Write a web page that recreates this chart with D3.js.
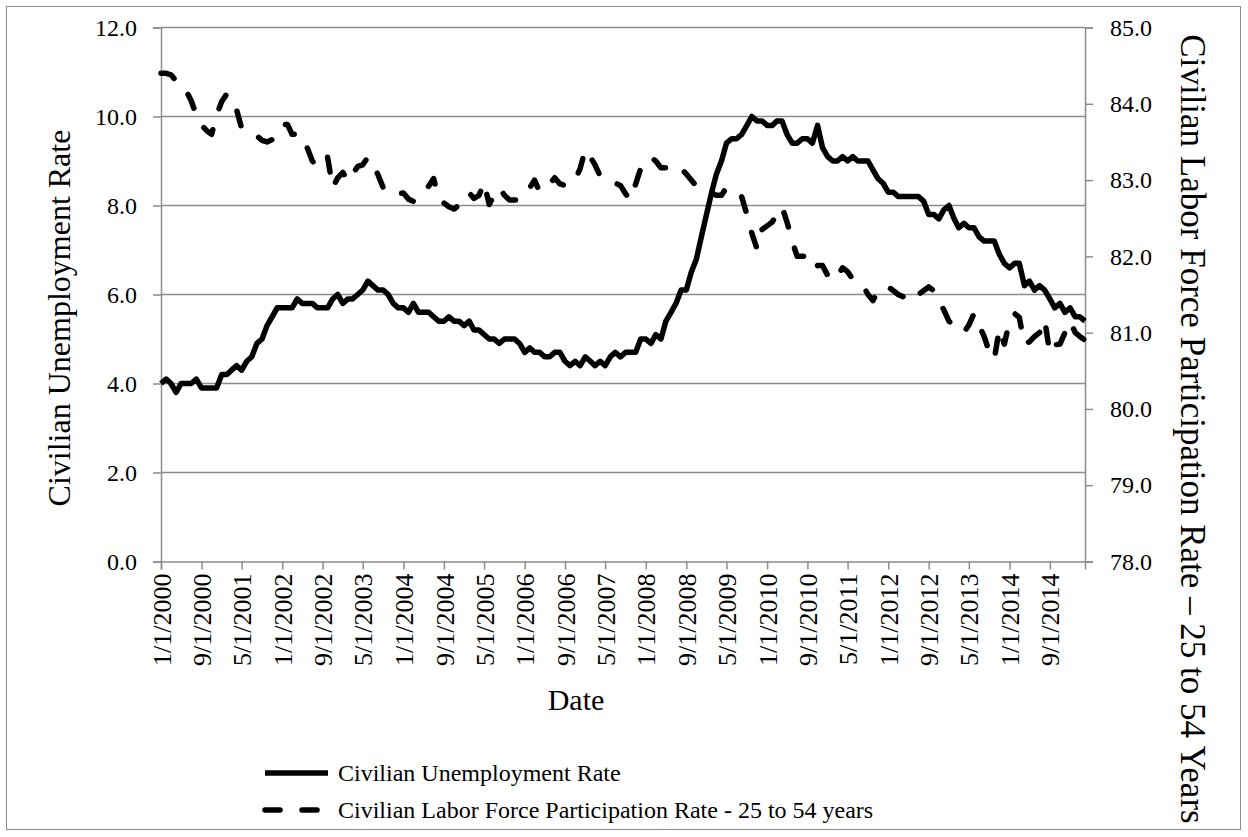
<!DOCTYPE html>
<html>
<head>
<meta charset="utf-8">
<script src="https://cdnjs.cloudflare.com/ajax/libs/d3/7.8.5/d3.min.js"></script>
<style>
  body { margin: 0; background: #fff; }
  text { font-family: "Liberation Serif", "Times New Roman", serif; fill: #000; }
</style>
</head>
<body>
<svg id="chart" width="1248" height="837"></svg>
<script type="text/javascript">

// monthly series, first value = January 2000
var firstMonth = "2000-01-01";

var unemployment = [
  4.0,4.1,4.0,3.8,4.0,4.0,4.0,4.1,3.9,3.9,3.9,3.9,
  4.2,4.2,4.3,4.4,4.3,4.5,4.6,4.9,5.0,5.3,5.5,5.7,
  5.7,5.7,5.7,5.9,5.8,5.8,5.8,5.7,5.7,5.7,5.9,6.0,
  5.8,5.9,5.9,6.0,6.1,6.3,6.2,6.1,6.1,6.0,5.8,5.7,
  5.7,5.6,5.8,5.6,5.6,5.6,5.5,5.4,5.4,5.5,5.4,5.4,
  5.3,5.4,5.2,5.2,5.1,5.0,5.0,4.9,5.0,5.0,5.0,4.9,
  4.7,4.8,4.7,4.7,4.6,4.6,4.7,4.7,4.5,4.4,4.5,4.4,
  4.6,4.5,4.4,4.5,4.4,4.6,4.7,4.6,4.7,4.7,4.7,5.0,
  5.0,4.9,5.1,5.0,5.4,5.6,5.8,6.1,6.1,6.5,6.8,7.3,
  7.8,8.3,8.7,9.0,9.4,9.5,9.5,9.6,9.8,10.0,9.9,9.9,
  9.8,9.8,9.9,9.9,9.6,9.4,9.4,9.5,9.5,9.4,9.8,9.3,
  9.1,9.0,9.0,9.1,9.0,9.1,9.0,9.0,9.0,8.8,8.6,8.5,
  8.3,8.3,8.2,8.2,8.2,8.2,8.2,8.1,7.8,7.8,7.7,7.9,
  8.0,7.7,7.5,7.6,7.5,7.5,7.3,7.2,7.2,7.2,6.9,6.7,
  6.6,6.7,6.7,6.2,6.3,6.1,6.2,6.1,5.9,5.7,5.8,5.6,
  5.7,5.5,5.5,5.4
];

var participation = [
  84.4,84.4,84.38,84.3,84.2,84.17,84.04,83.85,83.72,83.65,83.6,83.85,
  84.03,84.13,84.02,83.92,83.68,83.65,83.62,83.58,83.52,83.5,83.53,83.65,
  83.73,83.73,83.6,83.6,83.59,83.42,83.25,83.17,83.28,83.3,82.9,83.03,
  83.1,82.98,83.08,83.18,83.2,83.3,83.2,83.07,82.9,82.82,82.82,82.82,
  82.83,82.75,82.72,82.75,82.83,82.92,83.02,82.76,82.7,82.65,82.62,82.67,
  82.7,82.83,82.76,82.8,82.97,82.68,82.8,82.9,82.8,82.74,82.74,82.74,
  82.8,82.9,83.0,82.85,82.88,82.95,83.03,82.95,82.93,82.93,83.0,83.15,
  83.4,83.3,83.2,83.05,83.0,82.98,82.96,82.93,82.82,82.74,82.95,83.15,
  83.25,83.3,83.25,83.16,83.16,83.18,83.2,83.15,83.08,83.0,82.92,82.85,
  82.85,82.83,82.8,82.8,82.9,82.88,82.82,82.78,82.55,82.3,82.1,82.35,
  82.4,82.45,82.55,82.65,82.45,82.2,82.0,82.0,82.0,81.85,81.88,81.88,
  81.75,81.68,81.75,81.85,81.8,81.7,81.65,81.62,81.5,81.42,81.55,81.6,
  81.6,81.55,81.5,81.47,81.55,81.5,81.5,81.55,81.6,81.55,81.4,81.3,
  81.15,81.1,81.05,81.0,81.1,81.25,81.1,80.95,80.75,80.65,81.05,80.85,
  81.15,81.25,81.2,80.85,80.88,80.95,81.0,81.17,80.73,80.84,80.85,81.0,
  81.15,81.0,80.95,80.9
];

var leftTicks = [0, 2, 4, 6, 8, 10, 12];
var rightTicks = [78, 79, 80, 81, 82, 83, 84, 85];
var dateLabels = ["1/1/2000","9/1/2000","5/1/2001","1/1/2002","9/1/2002","5/1/2003",
  "1/1/2004","9/1/2004","5/1/2005","1/1/2006","9/1/2006","5/1/2007","1/1/2008",
  "9/1/2008","5/1/2009","1/1/2010","9/1/2010","5/1/2011","1/1/2012","9/1/2012",
  "5/1/2013","1/1/2014","9/1/2014"];

var seriesNames = ["Civilian Unemployment Rate",
  "Civilian Labor Force Participation Rate - 25 to 54 years"];

var svg = d3.select("#chart");
var plotL = 161, plotR = 1085, plotT = 27.5, plotB = 561.5;
var grey = "#8c8c8c";

var start = d3.timeParse("%Y-%m-%d")(firstMonth);
var dates = unemployment.map(function(d, i) { return d3.timeMonth.offset(start, i); });
var parseLabel = d3.timeParse("%-m/%-d/%Y");

var x = d3.scaleTime().domain([start, dates[dates.length - 1]]).range([plotL, plotR]);
var yL = d3.scaleLinear().domain([0, 12]).range([plotB, plotT]);
var yR = d3.scaleLinear().domain([78, 85]).range([plotB, plotT]);

// outer frame
svg.append("rect")
  .attr("x", 6.5).attr("y", 6.5).attr("width", 1234).attr("height", 823)
  .attr("fill", "none").attr("stroke", grey).attr("stroke-width", 1);

// gridlines
svg.append("g").selectAll("line").data(leftTicks.slice(1)).enter().append("line")
  .attr("x1", plotL).attr("x2", plotR)
  .attr("y1", function(d) { return yL(d); }).attr("y2", function(d) { return yL(d); })
  .attr("stroke", grey).attr("stroke-width", 1.5);

// left axis
var axL = svg.append("g").attr("transform", "translate(" + plotL + ",0)")
  .call(d3.axisLeft(yL).tickValues(leftTicks).tickSize(8).tickPadding(16)
    .tickFormat(d3.format(".1f")));

// right axis
var axR = svg.append("g").attr("transform", "translate(" + plotR + ",0)")
  .call(d3.axisRight(yR).tickValues(rightTicks).tickSize(8).tickPadding(17)
    .tickFormat(d3.format(".1f")));

// bottom axis
var axB = svg.append("g").attr("transform", "translate(0," + plotB + ")")
  .call(d3.axisBottom(x).tickValues(dateLabels.map(parseLabel)).tickSize(8)
    .tickFormat(function(d, i) { return dateLabels[i]; }));

[axL, axR, axB].forEach(function(a) {
  a.select(".domain").attr("stroke", grey).attr("stroke-width", 1.5);
  a.selectAll(".tick line").attr("stroke", grey).attr("stroke-width", 1.5);
  a.selectAll("text").attr("font-family", "Liberation Serif").attr("font-size", 24).attr("fill", "#000");
});

axB.selectAll("text")
  .attr("font-size", 26)
  .attr("transform", "rotate(-90)")
  .attr("x", -12).attr("y", 0).attr("dy", "0.35em")
  .attr("text-anchor", "end");

// series lines
var lineU = d3.line().x(function(d, i) { return x(dates[i]); }).y(function(d) { return yL(d); });
var lineP = d3.line().x(function(d, i) { return x(dates[i]); }).y(function(d) { return yR(d); });

svg.append("path").datum(participation)
  .attr("d", lineP).attr("fill", "none").attr("stroke", "#000")
  .attr("stroke-width", 5.5).attr("stroke-dasharray", "15,22")
  .attr("stroke-linecap", "round").attr("stroke-linejoin", "round");

svg.append("path").datum(unemployment)
  .attr("d", lineU).attr("fill", "none").attr("stroke", "#000")
  .attr("stroke-width", 5.5).attr("stroke-linejoin", "round");

// axis titles
svg.append("text")
  .attr("transform", "translate(70,318) rotate(-90)")
  .attr("text-anchor", "middle").attr("font-size", 32)
  .text("Civilian Unemployment Rate");

svg.append("text")
  .attr("transform", "translate(1181,429) rotate(90)")
  .attr("text-anchor", "middle").attr("font-size", 35)
  .text("Civilian Labor Force Participation Rate \u2013 25 to 54 Years");

svg.append("text")
  .attr("x", 576).attr("y", 710)
  .attr("text-anchor", "middle").attr("font-size", 30)
  .text("Date");

// legend
var legend = svg.append("g").attr("transform", "translate(262,773)");
legend.selectAll("line").data(seriesNames).enter().append("line")
  .attr("x1", 3).attr("x2", 66)
  .attr("y1", function(d, i) { return i * 37; }).attr("y2", function(d, i) { return i * 37; })
  .attr("stroke", "#000").attr("stroke-width", 5.5)
  .attr("stroke-linecap", function(d, i) { return i ? "round" : "butt"; })
  .attr("stroke-dasharray", function(d, i) { return i ? "15,22" : null; });
legend.selectAll("text").data(seriesNames).enter().append("text")
  .attr("x", 76).attr("y", function(d, i) { return i * 37; }).attr("dy", "0.35em")
  .attr("font-size", 24)
  .text(function(d) { return d; });

</script>
</body>
</html>
